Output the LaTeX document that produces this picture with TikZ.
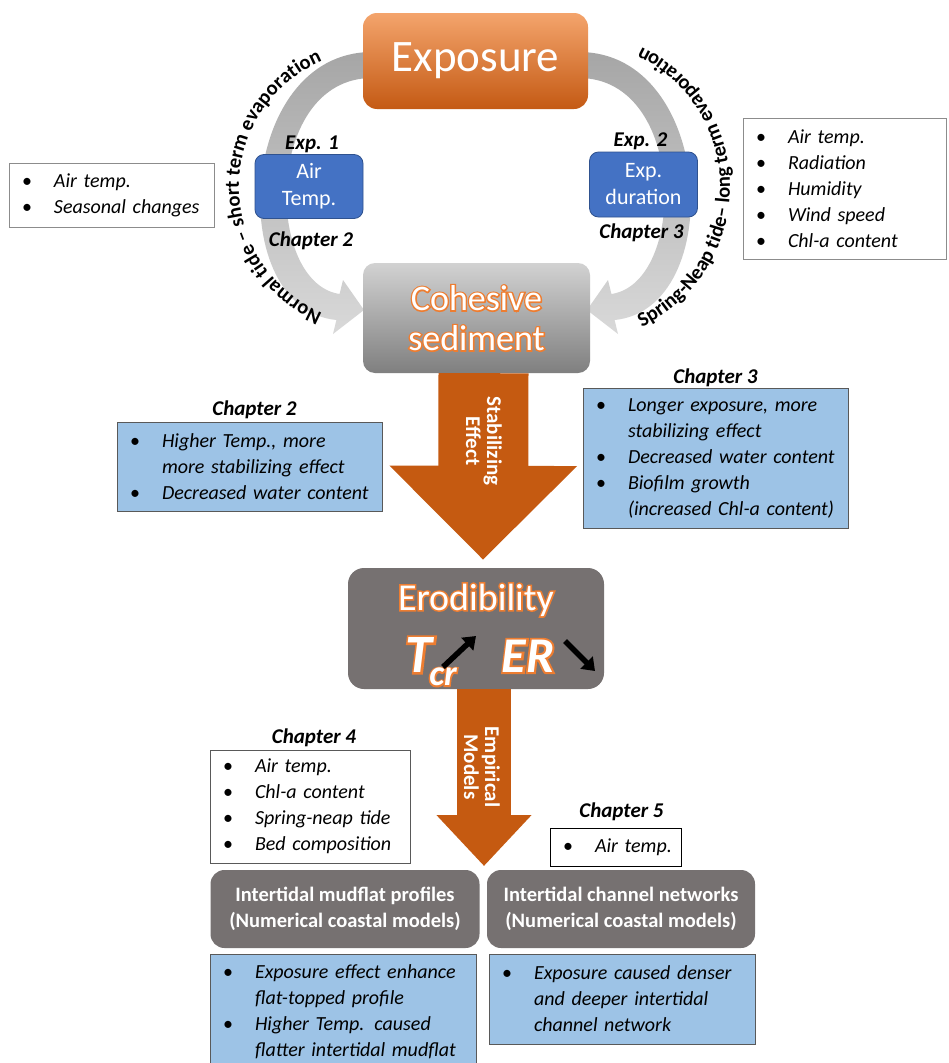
\documentclass[tikz,border=0pt]{standalone}
\usepackage{fontspec}
\setmainfont{Carlito}
\newfontfamily\glowfam[FakeBold=8]{Carlito}
\usetikzlibrary{arrows.meta, positioning, decorations.text}

\definecolor{orng}{HTML}{C55A11}
\definecolor{orngtop}{HTML}{F4A46C}
\definecolor{orngbot}{HTML}{C45A14}
\definecolor{glow}{HTML}{ED7D31}
\definecolor{cohtop}{HTML}{D2D2D2}
\definecolor{cohbot}{HTML}{7F7F7F}
\definecolor{arcdk}{HTML}{A6A6A6}
\definecolor{arclt}{HTML}{D9D9D9}
\definecolor{slate}{HTML}{767171}
\definecolor{expblue}{HTML}{4472C4}
\definecolor{expline}{HTML}{2F528F}
\definecolor{paleblue}{HTML}{9DC3E6}
\definecolor{frame}{HTML}{595959}

\newcommand{\fsz}[2]{\fontsize{#1}{#2}\selectfont}
\newcommand{\arcfont}{\bfseries\fontsize{20.5}{24}\selectfont}
\newcommand{\itm}[1]{\mbox{\makebox[32pt][l]{\upshape\textbullet}#1}}
\newcommand{\cnt}[1]{\mbox{\hspace*{32pt}#1}}
% orange rim behind white lettering
\newcommand{\glow}[1]{\rlap{\glowfam\color{glow}#1}#1}

\begin{document}
\begin{tikzpicture}[x=1pt, y=-1pt,
    node distance=2pt,
    itemlist/.style={draw=#1, fill=white, line width=0.9pt, align=left, inner xsep=13pt, inner ysep=3pt, font=\itshape\fsz{20}{26}},
    result/.style={itemlist=frame, fill=paleblue, minimum width=266pt, text width=240pt},
    chap/.style={font=\bfseries\itshape\fsz{21}{24}, inner sep=1pt},
    expbox/.style={rounded corners=9pt, fill=expblue, draw=expline, line width=0.8pt, text=white, align=center, font=\fsz{22}{27}, minimum width=108pt, minimum height=64pt},
    model/.style={rounded corners=14pt, fill=slate, text=white, align=center, font=\bfseries\fsz{20.5}{26}, minimum width=269pt, minimum height=78pt},
    flow/.style={draw=orng, line width=#1},
    vlabel/.style={rotate=-90, text=white, align=center, font=\bfseries\fsz{21}{21}},
    glowtext/.style={text=white, inner sep=0pt},
    trend/.style={line width=5.5pt, -{Triangle[length=12pt, width=17pt]}}
  ]
  \useasboundingbox (0,0) rectangle (948,1063);
  \clip (0,0) rectangle (948,1063);
  \fill[white] (0,0) rectangle (948,1063);

  % grey exposure loops
  \shade[top color=arcdk, bottom color=arclt]
    (372,52) .. controls (236,52) and (224,309) .. (336.4,320)
    -- (333,334) -- (364,310) -- (343,280) -- (339.6,294)
    .. controls (264,283) and (264,78) .. (372,78) -- cycle;
  \begin{scope}[xshift=951pt, xscale=-1]
    \shade[top color=arcdk, bottom color=arclt]
      (372,52) .. controls (236,52) and (224,309) .. (336.4,320)
      -- (333,334) -- (364,310) -- (343,280) -- (339.6,294)
      .. controls (264,283) and (264,78) .. (372,78) -- cycle;
  \end{scope}
  \coordinate (lc) at (376,187);
  \coordinate (rc) at (575,187);
  \path[decorate, decoration={text along path, text align=center,
      text={|\arcfont|Normal tide – short term evaporation}}]
    ([shift={(108:137)}]lc) arc[start angle=108, end angle=252, radius=137];
  \path[decorate, decoration={text along path, text align=center,
      text={|\arcfont|Spring-Neap tide– long term evaporation}}]
    ([shift={(76:155)}]rc) arc[start angle=76, end angle=-76, radius=155];

  \node[minimum width=225pt, minimum height=96pt, rounded corners=14pt, top color=orngtop, bottom color=orngbot, text=white, font=\fsz{45}{45}] (expo) at (475.5,61) {Exposure};
  \node[minimum width=227pt, minimum height=110pt, rounded corners=12pt, top color=cohtop, bottom color=cohbot, text=white, align=center, font=\fsz{36}{40}] (coh) at (476.5,318) {\glow{Cohesive}\\\glow{sediment}};

  \node[expbox] (airt) at (309,186.5) {Air\\Temp.};
  \node[expbox, minimum height=65pt] (expd) at (643.5,184.5) {Exp.\\duration};
  \node[chap, above=0pt of airt, xshift=3pt] (exp1) {Exp. 1};
  \node[chap, below=12pt of airt, xshift=2pt] (lab2a) {Chapter 2};
  \node[chap, above=1pt of expd, xshift=-3pt] (exp2) {Exp. 2};
  \node[chap, below=5pt of expd, xshift=-2pt] (lab3a) {Chapter 3};

  \node[itemlist=gray!90, minimum width=205pt, minimum height=64pt, text width=179pt] (seas) at (111.5,195) {\itm{Air temp.}\\\itm{Seasonal changes}};
  \node[itemlist=gray!90, minimum width=203pt, minimum height=141pt, text width=177pt] (meteo) at (844.5,188.5) {\itm{Air temp.}\\\itm{Radiation}\\\itm{Humidity}\\\itm{Wind speed}\\\itm{Chl-a content}};

  \node[result, minimum width=265pt, text width=239pt, minimum height=89pt] (res2) at (249.5,466.5) {\itm{Higher Temp., more}\\\cnt{more stabilizing effect}\\\itm{Decreased water content}};
  \node[chap, above=2pt of res2, xshift=5pt] (lab2b) {Chapter 2};
  \node[result, minimum width=265pt, text width=239pt, minimum height=140pt] (res3) at (715.5,458) {\itm{Longer exposure, more}\\\cnt{stabilizing effect}\\\itm{Decreased water content}\\\itm{Biofilm growth}\\\cnt{(increased Chl-a content)}};
  \node[chap, above=0pt of res3] (lab3b) {Chapter 3};

  \node[rounded corners=16pt, fill=slate, minimum width=256pt, minimum height=121pt] (ero) at (476,628.5) {};
  \node[glowtext, font=\fsz{38}{38}] (erot) at (476,600) {\glow{Erodibility}};
  \node[glowtext, font=\bfseries\itshape\fsz{54}{54}] (tcr) at (419,655) {\glow{T}};
  \node[glowtext, font=\bfseries\itshape\fsz{36}{36}] (cr) at (443,677) {\glow{cr}};
  \node[glowtext, font=\bfseries\itshape\fsz{50}{50}] (er) at (528,656) {\glow{ER}};
  \coordinate (up0) at (443,667);
  \coordinate (up1) at (476,636);
  \coordinate (dn0) at (565,641);
  \coordinate (dn1) at (595,671);
  \draw[trend] (up0) -- (up1);
  \draw[trend] (dn0) -- (dn1);

  \draw[flow=90pt, -{Triangle[length=94pt, width=182pt]}] ([xshift=7pt]coh.south) -- ([xshift=7pt, yshift=8pt]ero.north);
  \node[vlabel] (stab) at (484,441) {Stabilizing\\Effect};

  \node[model] (mud) at (345,909) {Intertidal mudflat profiles\\(Numerical coastal models)};
  \node[model, minimum width=268pt] (chan) at (621,909) {Intertidal channel networks\\(Numerical coastal models)};
  \coordinate (modtop) at (484,866);
  \draw[flow=54pt, -{Triangle[length=51pt, width=92pt]}] ([xshift=8pt]ero.south) -- (modtop);
  \node[vlabel] (emp) at (482,767) {Empirical\\Models};

  \node[itemlist=frame, minimum width=200pt, minimum height=113pt, text width=174pt] (drivers) at (310,806.5) {\itm{Air temp.}\\\itm{Chl-a content}\\\itm{Spring-neap tide}\\\itm{Bed composition}};
  \node[chap, above=1.5pt of drivers, xshift=4pt] (lab4) {Chapter 4};
  \node[itemlist=black, minimum width=131pt, minimum height=38pt, text width=105pt] (aironly) at (615.5,847) {\itm{Air temp.}};
  \node[chap, above=6pt of aironly, xshift=6pt] (lab5) {Chapter 5};

  \node[result, minimum height=116pt] (prof) at (343,1012) {\itm{Exposure effect enhance}\\\cnt{flat-topped profile}\\\itm{Higher Temp. caused}\\\cnt{flatter intertidal mudflat}};
  \node[result, minimum height=90pt] (netw) at (622,999) {\itm{Exposure caused denser}\\\cnt{and deeper intertidal}\\\cnt{channel network}};
\end{tikzpicture}
\end{document}
